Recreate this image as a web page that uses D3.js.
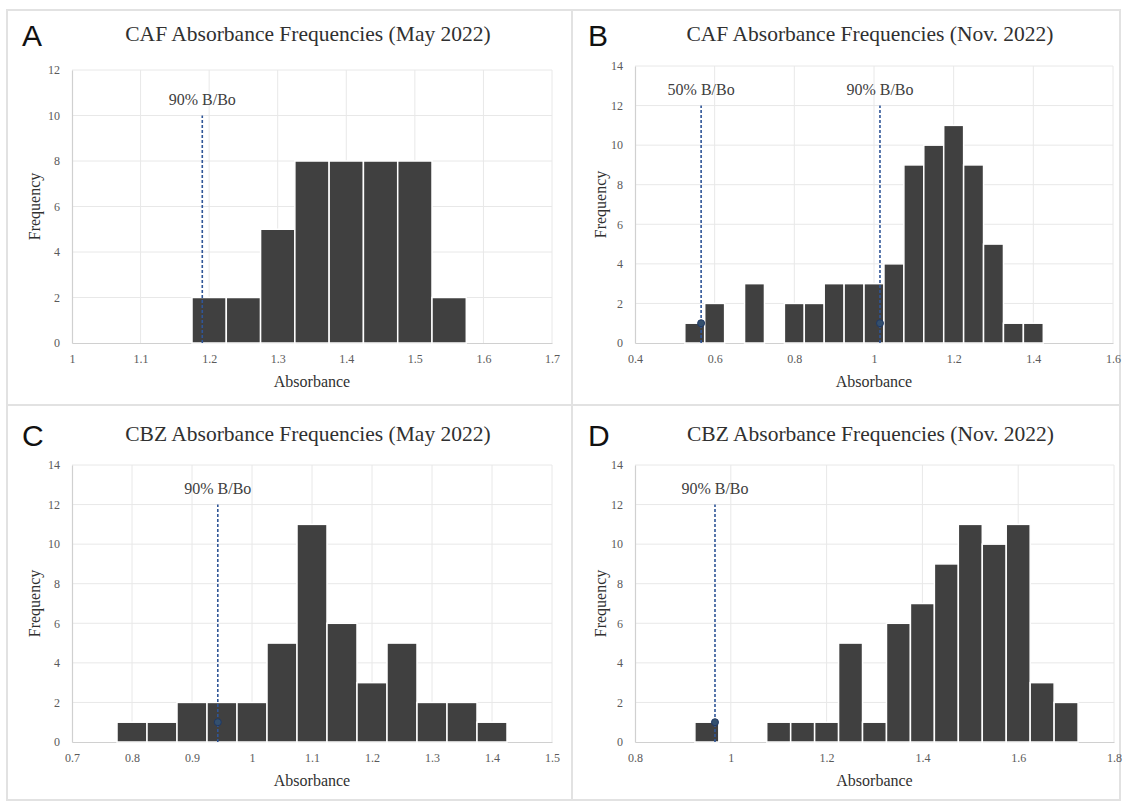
<!DOCTYPE html>
<html>
<head>
<meta charset="utf-8">
<script src="https://cdn.jsdelivr.net/npm/d3@7"></script>
<style>
  body { margin: 0; background: #fff; }
  svg { display: block; }
</style>
</head>
<body>
<svg id="chart"></svg>
<script>
const width = 1123;
const height = 802;

// bin centres (bin width 0.05) and counts
const binWidth = 0.05;

const cafMayBins = [1.2, 1.25, 1.3, 1.35, 1.4, 1.45, 1.5, 1.55];
const cafMayCounts = [2, 2, 5, 8, 8, 8, 8, 2];

const cafNovBins = [0.55, 0.6, 0.65, 0.7, 0.75, 0.8, 0.85, 0.9, 0.95, 1.0, 1.05, 1.1, 1.15, 1.2, 1.25, 1.3, 1.35, 1.4];
const cafNovCounts = [1, 2, 0, 3, 0, 2, 2, 3, 3, 3, 4, 9, 10, 11, 9, 5, 1, 1];

const cbzMayBins = [0.8, 0.85, 0.9, 0.95, 1.0, 1.05, 1.1, 1.15, 1.2, 1.25, 1.3, 1.35, 1.4];
const cbzMayCounts = [1, 1, 2, 2, 2, 5, 11, 6, 3, 5, 2, 2, 1];

const cbzNovBins = [0.95, 1.0, 1.05, 1.1, 1.15, 1.2, 1.25, 1.3, 1.35, 1.4, 1.45, 1.5, 1.55, 1.6, 1.65, 1.7];
const cbzNovCounts = [1, 0, 0, 1, 1, 1, 5, 1, 6, 7, 9, 11, 10, 11, 3, 2];

// axis ticks
const cafMayXTicks = [1, 1.1, 1.2, 1.3, 1.4, 1.5, 1.6, 1.7];
const cafNovXTicks = [0.4, 0.6, 0.8, 1, 1.2, 1.4, 1.6];
const cbzMayXTicks = [0.7, 0.8, 0.9, 1, 1.1, 1.2, 1.3, 1.4, 1.5];
const cbzNovXTicks = [0.8, 1, 1.2, 1.4, 1.6, 1.8];
const yTicks12 = [0, 2, 4, 6, 8, 10, 12];
const yTicks14 = [0, 2, 4, 6, 8, 10, 12, 14];

// B/Bo reference lines: absorbance, label, height of the line (frequency)
const cafMayRefX = [1.19];
const cafMayRefLabels = ["90% B/Bo"];
const cafMayRefTop = 10;
const cafNovRefX = [0.566, 1.015];
const cafNovRefLabels = ["50% B/Bo", "90% B/Bo"];
const cafNovRefTop = 12;
const cbzMayRefX = [0.943];
const cbzMayRefLabels = ["90% B/Bo"];
const cbzMayRefTop = 12;
const cbzNovRefX = [0.967];
const cbzNovRefLabels = ["90% B/Bo"];
const cbzNovRefTop = 12;

const titles = [
  "CAF Absorbance Frequencies (May 2022)",
  "CAF Absorbance Frequencies (Nov. 2022)",
  "CBZ Absorbance Frequencies (May 2022)",
  "CBZ Absorbance Frequencies (Nov. 2022)"
];
const letters = ["A", "B", "C", "D"];

const panels = [
  { bins: cafMayBins, counts: cafMayCounts, xTicks: cafMayXTicks, yTicks: yTicks12,
    refX: cafMayRefX, refLabels: cafMayRefLabels, refTop: cafMayRefTop, marker: false,
    box: { left: 72, right: 552, top: 70, bottom: 343 }, ox: 0, oy: 0 },
  { bins: cafNovBins, counts: cafNovCounts, xTicks: cafNovXTicks, yTicks: yTicks14,
    refX: cafNovRefX, refLabels: cafNovRefLabels, refTop: cafNovRefTop, marker: true,
    box: { left: 635, right: 1113, top: 66, bottom: 343 }, ox: 566, oy: 0 },
  { bins: cbzMayBins, counts: cbzMayCounts, xTicks: cbzMayXTicks, yTicks: yTicks14,
    refX: cbzMayRefX, refLabels: cbzMayRefLabels, refTop: cbzMayRefTop, marker: true,
    box: { left: 72, right: 552, top: 465, bottom: 742 }, ox: 0, oy: 400 },
  { bins: cbzNovBins, counts: cbzNovCounts, xTicks: cbzNovXTicks, yTicks: yTicks14,
    refX: cbzNovRefX, refLabels: cbzNovRefLabels, refTop: cbzNovRefTop, marker: true,
    box: { left: 635, right: 1114, top: 465, bottom: 742 }, ox: 566, oy: 400 }
];

const serif = "Liberation Serif, DejaVu Serif, serif";

const svg = d3.select("#chart")
  .attr("width", width)
  .attr("height", height);

svg.append("rect").attr("width", width).attr("height", height).attr("fill", "#fff");

// panel frames
const frame = svg.append("g").attr("stroke", "#e2e2e2").attr("stroke-width", 2).attr("fill", "none");
frame.append("rect").attr("x", 7).attr("y", 10).attr("width", 1113).attr("height", 790);
frame.append("line").attr("x1", 572).attr("x2", 572).attr("y1", 10).attr("y2", 800);
frame.append("line").attr("x1", 7).attr("x2", 1120).attr("y1", 405).attr("y2", 405);

panels.forEach((p, i) => {
  const b = p.box;
  const x = d3.scaleLinear()
    .domain([p.xTicks[0], p.xTicks[p.xTicks.length - 1]])
    .range([b.left, b.right]);
  const y = d3.scaleLinear()
    .domain([0, p.yTicks[p.yTicks.length - 1]])
    .range([b.bottom, b.top]);

  const g = svg.append("g");

  // gridlines
  g.append("g")
    .selectAll("line.h")
    .data(p.yTicks.slice(1))
    .join("line")
    .attr("x1", b.left).attr("x2", b.right)
    .attr("y1", d => y(d)).attr("y2", d => y(d))
    .attr("stroke", "#e8e8e8").attr("stroke-width", 1);
  g.append("g")
    .selectAll("line.v")
    .data(p.xTicks.slice(1))
    .join("line")
    .attr("x1", d => x(d)).attr("x2", d => x(d))
    .attr("y1", b.top).attr("y2", b.bottom)
    .attr("stroke", "#e8e8e8").attr("stroke-width", 1);

  // axes
  const xAxis = g.append("g")
    .attr("transform", `translate(0,${b.bottom})`)
    .call(d3.axisBottom(x).tickValues(p.xTicks).tickSize(0).tickPadding(11).tickFormat(d3.format("~g")));
  const yAxis = g.append("g")
    .attr("transform", `translate(${b.left},0)`)
    .call(d3.axisLeft(y).tickValues(p.yTicks).tickSize(0).tickPadding(12));
  [xAxis, yAxis].forEach(a => {
    a.select(".domain").attr("stroke", "#d0d0d0").attr("stroke-width", 1.2);
    a.selectAll("text")
      .attr("fill", "#5a5a5a")
      .attr("font-family", serif)
      .attr("font-size", 12);
  });

  // bars
  g.append("g")
    .selectAll("rect")
    .data(p.bins.map((c, k) => ({ c: c, n: p.counts[k] })).filter(d => d.n > 0))
    .join("rect")
    .attr("x", d => x(d.c - binWidth / 2))
    .attr("width", d => x(d.c + binWidth / 2) - x(d.c - binWidth / 2))
    .attr("y", d => y(d.n))
    .attr("height", d => y(0) - y(d.n))
    .attr("fill", "#404040")
    .attr("stroke", "#ffffff")
    .attr("stroke-width", 1.5);

  // reference lines
  p.refX.forEach((rx, k) => {
    g.append("line")
      .attr("x1", x(rx)).attr("x2", x(rx))
      .attr("y1", y(0)).attr("y2", y(p.refTop))
      .attr("stroke", "#2f5597")
      .attr("stroke-width", 1.6)
      .attr("stroke-dasharray", "3,2");
    if (p.marker) {
      g.append("circle")
        .attr("cx", x(rx)).attr("cy", y(1))
        .attr("r", 3.5)
        .attr("fill", "#34506e")
        .attr("stroke", "#1f3864")
        .attr("stroke-width", 1);
    }
    g.append("text")
      .attr("x", x(rx))
      .attr("y", y(p.refTop) - 11)
      .attr("text-anchor", "middle")
      .attr("fill", "#404040")
      .attr("font-family", serif)
      .attr("font-size", 16)
      .text(p.refLabels[k]);
  });

  // title and panel letter
  svg.append("text")
    .attr("x", (b.left + b.right) / 2 - 4)
    .attr("y", p.oy + 41)
    .attr("text-anchor", "middle")
    .attr("fill", "#303030")
    .attr("font-family", serif)
    .attr("font-size", 21.5)
    .text(titles[i]);
  svg.append("text")
    .attr("x", p.ox + 22)
    .attr("y", p.oy + 46)
    .attr("fill", "#111")
    .attr("font-family", "Liberation Sans, Arial, sans-serif")
    .attr("font-size", 30)
    .text(letters[i]);

  // axis titles
  svg.append("text")
    .attr("x", (b.left + b.right) / 2)
    .attr("y", b.bottom + 44)
    .attr("text-anchor", "middle")
    .attr("fill", "#303030")
    .attr("font-family", serif)
    .attr("font-size", 16)
    .text("Absorbance");
  svg.append("text")
    .attr("transform", `translate(${p.ox + 40},${(b.top + b.bottom) / 2}) rotate(-90)`)
    .attr("text-anchor", "middle")
    .attr("fill", "#303030")
    .attr("font-family", serif)
    .attr("font-size", 16)
    .text("Frequency");
});
</script>
</body>
</html>
